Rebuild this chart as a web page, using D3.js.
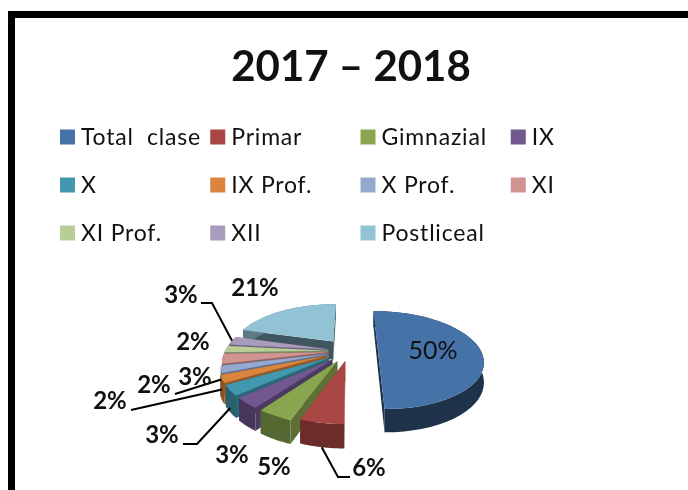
<!DOCTYPE html>
<html>
<head>
<meta charset="utf-8">
<script src="https://cdnjs.cloudflare.com/ajax/libs/d3/7.8.5/d3.min.js"></script>
<style>
  html, body { margin: 0; padding: 0; background: #fff; overflow: hidden; }
  svg { display: block; filter: blur(0.4px); }
  text { font-family: Lato, "Noto Sans", sans-serif; fill: #111; }
</style>
</head>
<body>
<svg id="chart" width="688" height="490"></svg>
<script>
var title = "2017 \u2013 2018";
var categories = ["Total  clase","Primar","Gimnazial","IX","X","IX Prof.","X Prof.","XI","XI Prof.","XII","Postliceal"];
// labels are rounded, the slice widths in the picture say a bit more
var values = [50,5.5,4.5,3.4,3.3,2.4,2.2,3.2,2.1,2.8,20.6];
var colors = ["#4572a7","#aa4643","#89a54e","#71588f","#4198af","#db843d","#93a9cf","#d19392","#b9cd96","#a99bbd","#92c3d5"];

// hand placed in the original chart, so they stay hand placed here
var explode = [29,21,24,24,24,24,22,21,21,21,27];
var labelPos = [[433,359],[369,476],[274,475],[232,463],[162,443],[110,409],[154,393],[195,385],[193,350],[181,303],[255,296]];
var leaderBends = [null,[[338,477],[350,477]],null,null,[[197,444],[183,444]],[[131,410]],[[175,394]],null,null,[[212,303],[201,303]],null];
var leaderOnWall = [0,1,0,0,0.8,0.5,0.5,0,0,0,0];

var svg = d3.select("#chart");

// frame
svg.append("path")
  .attr("d","M11.5,490 V14.5 H688")
  .attr("fill","none").attr("stroke","#000").attr("stroke-width",7);

svg.append("text")
  .attr("x",351).attr("y",81)
  .attr("text-anchor","middle")
  .attr("font-size",42).attr("font-weight",700)
  .text(title);

// legend
var legendX = d3.scaleBand().domain([0,1,2,3]).range([60,661]);
var legendY = d3.scaleBand().domain([0,1,2]).range([113,257]);

var legend = svg.append("g").selectAll("g").data(categories)
  .enter().append("g")
  .attr("transform",function(d,i) {
    return "translate(" + legendX(i%4) + "," + (legendY(Math.floor(i/4)) + legendY.bandwidth()/2) + ")";
  });
legend.append("rect")
  .attr("x",0).attr("y",-7.5).attr("width",15).attr("height",15)
  .attr("fill",function(d,i) { return colors[i]; });
legend.append("text")
  .attr("x",21).attr("y",8)
  .attr("font-size",23)
  .attr("letter-spacing",0.8)
  .attr("fill","#222")
  .style("white-space","pre")
  .text(function(d) { return d; });

// 3D pie: d3.pie for the angles, then a small perspective projection
var cx = 349, cy = 351, R = 103, tilt = 47.4/103, persp = 0.184, depth = 19;

function project(wx,wy,z) {
  var s = 1/(1 + persp*wy/R);
  return [cx + wx*s, cy - tilt*wy*s + z*s];
}

var pie = d3.pie().sort(null).value(function(d) { return d; })(values);
var line = d3.line();

pie.forEach(function(p) {
  p.mid = (p.startAngle + p.endAngle)/2;
  p.ox = explode[p.index]*Math.sin(p.mid);
  p.oy = explode[p.index]*Math.cos(p.mid);
  p.pt = function(a,r,z) {
    return project(p.ox + r*Math.sin(a), p.oy + r*Math.cos(a), z);
  };
  p.angles = d3.range(0,41).map(function(k) {
    return p.startAngle + (p.endAngle - p.startAngle)*k/40;
  });
});

var order = pie.slice().sort(function(a,b) { return Math.cos(b.mid) - Math.cos(a.mid); });
var pieG = svg.append("g");

order.forEach(function(p) {
  var c = colors[p.index];
  var bigSlice = p.index == 0 || p.index == 10;
  var dark = d3.color(c).darker(bigSlice ? 2.3 : 1.1).formatHex();
  var mid = d3.color(c).darker(p.index == 0 ? 2.3 : 1.3).formatHex();

  [p.startAngle,p.endAngle].forEach(function(a) {
    pieG.append("path")
      .attr("d",line([p.pt(a,0,0),p.pt(a,R,0),p.pt(a,R,depth),p.pt(a,0,depth)]) + "Z")
      .attr("fill",dark);
  });

  var top = p.angles.map(function(a) { return p.pt(a,R,0); });
  var bottom = p.angles.map(function(a) { return p.pt(a,R,depth); }).reverse();
  pieG.append("path")
    .attr("d",line(top.concat(bottom)) + "Z")
    .attr("fill",mid);

  pieG.append("path")
    .attr("d",line([p.pt(p.startAngle,0,0)].concat(top)) + "Z")
    .attr("fill",c);
});

// leader lines start on the rim of their slice
pie.forEach(function(p) {
  var bend = leaderBends[p.index];
  if (!bend) return;
  pieG.append("path")
    .attr("d",line([p.pt(p.mid,R,depth*leaderOnWall[p.index])].concat(bend)))
    .attr("fill","none").attr("stroke","#000").attr("stroke-width",2);
});

// percent labels
svg.append("g").selectAll("text").data(values)
  .enter().append("text")
  .attr("x",function(d,i) { return labelPos[i][0]; })
  .attr("y",function(d,i) { return labelPos[i][1]; })
  .attr("text-anchor","middle")
  .attr("font-size",function(d,i) { return i == 0 ? 25 : 24; })
  .attr("font-weight",function(d,i) { return i == 0 ? 400 : 700; })
  .text(function(d) { return Math.round(d) + "%"; });
</script>
</body>
</html>
